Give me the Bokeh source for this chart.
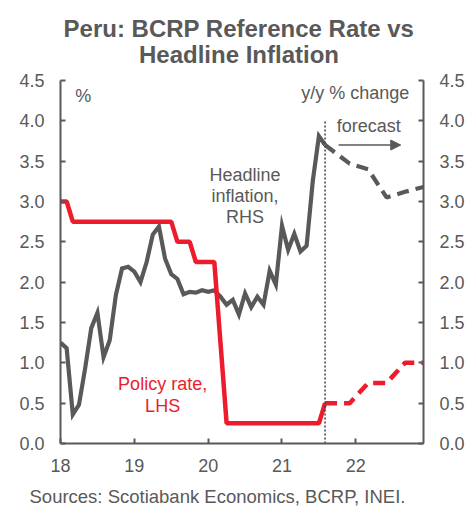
from bokeh.plotting import figure
from bokeh.layouts import column
from bokeh.models import (LinearAxis, Range1d, FixedTicker, Label, Arrow,
                          NormalHead, NumeralTickFormatter)
from bokeh.embed import file_html
from bokeh.resources import INLINE

# ---------------- data ----------------
year_ticks = [0, 12, 24, 36, 48]          # month index (0 = Jan 2018)
year_labels = ["18", "19", "20", "21", "22"]
y_ticks = [0.0, 0.5, 1.0, 1.5, 2.0, 2.5, 3.0, 3.5, 4.0, 4.5]

months_actual = list(range(0, 44))        # Jan 2018 .. Aug 2021
inflation_actual = [
    1.25, 1.18, 0.36, 0.48, 0.93, 1.43, 1.62, 1.07, 1.28, 1.84, 2.17, 2.19,
    2.13, 2.00, 2.25, 2.59, 2.69, 2.29, 2.10, 2.04, 1.85, 1.88, 1.87, 1.90,
    1.88, 1.90, 1.82, 1.72, 1.78, 1.60, 1.86, 1.69, 1.82, 1.72, 2.14, 1.97,
    2.70, 2.40, 2.60, 2.38, 2.45, 3.25, 3.81, 3.70,
]
policy_actual = [
    3.00, 3.00, 2.75, 2.75, 2.75, 2.75, 2.75, 2.75, 2.75, 2.75, 2.75, 2.75,
    2.75, 2.75, 2.75, 2.75, 2.75, 2.75, 2.75, 2.50, 2.50, 2.50, 2.25, 2.25,
    2.25, 2.25, 1.25, 0.25, 0.25, 0.25, 0.25, 0.25, 0.25, 0.25, 0.25, 0.25,
    0.25, 0.25, 0.25, 0.25, 0.25, 0.25, 0.25, 0.50,
]

months_fcst = [43, 47, 50, 53, 56, 59]
inflation_fcst = [3.70, 3.47, 3.40, 3.05, 3.12, 3.18]
policy_fcst = [0.50, 0.50, 0.75, 0.75, 1.00, 1.00]

forecast_start = 43
forecast_line_top = 4.0

title_line1 = "Peru: BCRP Reference Rate vs"
title_line2 = "Headline Inflation"
source_text = "Sources: Scotiabank Economics, BCRP, INEI."

# ---------------- style ----------------
GRAY = "#595959"
RED = "#EC1C2D"
FONT = "Liberation Sans"
W = 468


def blank_fig(height):
    f = figure(width=W, height=height, x_range=Range1d(0, W),
               y_range=Range1d(0, height), output_backend="svg",
               toolbar_location=None, x_axis_location=None,
               y_axis_location=None, min_border=0, title=None,
               frame_align=False)
    f.outline_line_color = None
    f.xgrid.grid_line_color = None
    f.ygrid.grid_line_color = None
    f.border_fill_color = "white"
    f.background_fill_color = "white"
    return f


# title strip (label y = visual centre, measured from strip bottom)
t = blank_fig(68)
for txt, yc in [(title_line1, 40.5), (title_line2, 14.5)]:
    t.add_layout(Label(x=238.5, y=yc, text=txt, text_align="center",
                       text_baseline="middle", text_font=FONT,
                       text_font_size="24px", text_font_style="bold",
                       text_color=GRAY))

# source strip
s = blank_fig(24)
s.add_layout(Label(x=29, y=10, text=source_text, text_align="left",
                   text_baseline="middle", text_font=FONT,
                   text_font_size="18.5px", text_color=GRAY))

# main chart
p = figure(width=W, height=414, x_range=Range1d(0, 59), y_range=Range1d(0, 4.5),
           output_backend="svg", toolbar_location=None, title=None,
           frame_align=False,
           min_border_left=60, min_border_right=45, min_border_top=12,
           min_border_bottom=39)
p.outline_line_color = None
p.xgrid.grid_line_color = None
p.ygrid.grid_line_color = None
p.background_fill_color = "white"
p.border_fill_color = "white"

right_axis = LinearAxis()
p.add_layout(right_axis, "right")


def style_axis(ax, standoff):
    ax.axis_line_color = GRAY
    ax.axis_line_width = 2
    ax.major_tick_line_color = GRAY
    ax.major_tick_line_width = 2
    ax.major_tick_in = 5
    ax.major_tick_out = 0
    ax.minor_tick_line_color = None
    ax.major_label_text_font = FONT
    ax.major_label_text_font_size = "18px"
    ax.major_label_text_color = GRAY
    ax.major_label_standoff = standoff


for ax in p.yaxis:
    ax.ticker = FixedTicker(ticks=y_ticks)
    ax.formatter = NumeralTickFormatter(format="0.0")
    style_axis(ax, 16)

xa = p.xaxis[0]
xa.ticker = FixedTicker(ticks=year_ticks)
xa.major_label_overrides = {tk: lb for tk, lb in zip(year_ticks, year_labels)}
style_axis(xa, 15)

p.line(months_actual, inflation_actual, line_color=GRAY, line_width=4.2,
       line_join="miter")
p.line(months_fcst, inflation_fcst, line_color=GRAY, line_width=4.2,
       line_dash="12 7")
p.line(months_actual, policy_actual, line_color=RED, line_width=4.5)
p.line(months_fcst, policy_fcst, line_color=RED, line_width=4.5,
       line_dash="12 7")

p.segment(x0=[forecast_start], y0=[0], x1=[forecast_start], y1=[forecast_line_top],
          line_color="#404040", line_width=1.5, line_dash="2 2")

p.add_layout(Arrow(x_start=45.2, y_start=3.70, x_end=55.3, y_end=3.70,
                   line_color=GRAY, line_width=1.5,
                   end=NormalHead(size=10, fill_color=GRAY, line_color=GRAY)))


def label(x, y, text, color=GRAY, align="left", size="18px"):
    p.add_layout(Label(x=x, y=y, text=text, text_align=align,
                       text_baseline="middle", text_font=FONT,
                       text_font_size=size, text_color=color))


label(2.4, 4.31, "%")
label(56.7, 4.34, "y/y % change", align="right")
label(50.1, 3.94, "forecast", align="center")
label(30.0, 3.33, "Headline", align="center")
label(30.0, 3.07, "inflation,", align="center")
label(30.0, 2.81, "RHS", align="center")
label(16.6, 0.74, "Policy rate,", color=RED, align="center")
label(16.6, 0.47, "LHS", color=RED, align="center")

layout = column(t, p, s, spacing=0)
open("out.html", "w").write(file_html(layout, INLINE))
